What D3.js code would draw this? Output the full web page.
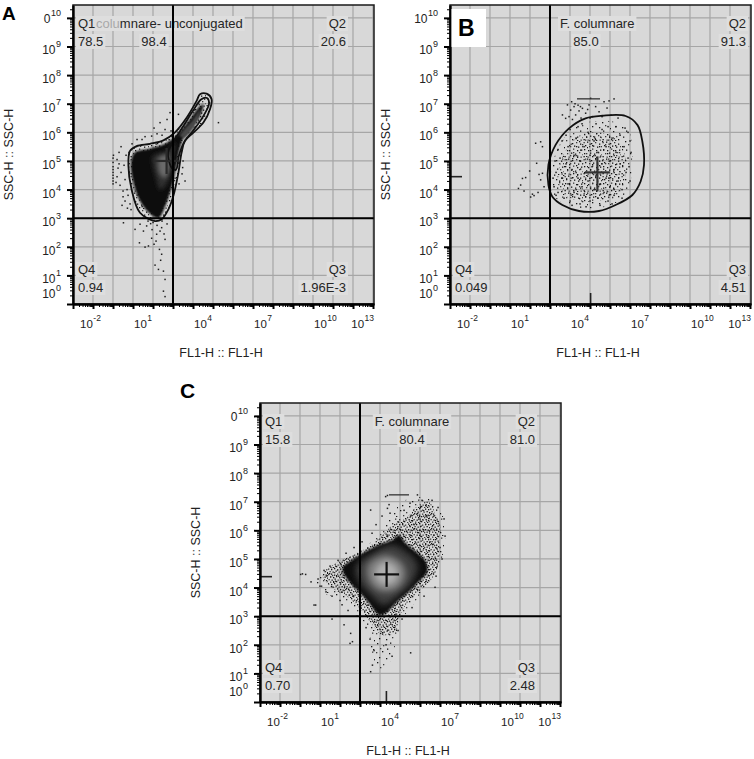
<!DOCTYPE html>
<html><head><meta charset="utf-8">
<script src="https://cdn.jsdelivr.net/npm/d3@7/dist/d3.min.js"></script>
<style>body{margin:0;background:#fff}svg{display:block}text{font-family:"Liberation Sans",Arial,Helvetica,sans-serif}</style>
</head><body>
<script>
// ================= DATA (decade units: value = log10 of channel) =================
const xDecades = [-2,-1,0,1,2,3,4,5,6,7,8,9,10,11,12,13];
const yDecades = [0,1,2,3,4,5,6,7,8,9,10];
const xLabelExps = [-2,1,4,7,10,13];
const yLabelExps = [0,1,2,3,4,5,6,7,8,9,10];
const yTopBase = ["0","10","0"];            // visible base text of the 10^10 label (A,B,C)
const quadThreshold = [3,3];                 // FL1 = 10^3, SSC = 10^3

const quadNames = ["Q1","Q2","Q3","Q4"];
const quadA = ["78.5","20.6","1.96E-3","0.94"];
const quadB = [null,"91.3","4.51","0.049"];
const quadC = ["15.8","81.0","2.48","0.70"];
// panel A: the "F. " of the gate name is hidden behind the Q1 label; "colu" is faded
const gateNameA = ["colu","mnare- unconjugated"];
const gateNames = ["columnare- unconjugated","F. columnare","F. columnare"];
const gateValues = ["98.4","85.0","80.4"];
const xTitle = "FL1-H :: FL1-H";
const yTitle = "SSC-H :: SSC-H";
const panelLetters = ["A","B","C"];

// medians (cross) per panel
const medianA = [2.68,5.0];
const medianB = [5.37,4.6];
const medianC = [4.33,4.46];

// panel A: contours and density levels
const contourA = [[2.1,2.9],[1.35,3.19],[0.93,4.0],[0.77,4.83],[0.85,5.35],[1.18,5.52],[1.85,5.6],[2.52,5.72],[3.1,6.0],[3.68,6.51],[4.18,7.1],[4.35,7.33],[4.68,7.35],[4.93,7.16],[4.85,6.81],[4.52,6.34],[4.02,5.99],[3.6,5.7],[3.43,5.29],[3.27,4.59],[3.02,3.78],[2.77,3.31],[2.43,2.96]];
const armContourA = [[2.75,5.3],[2.95,5.6],[3.5,6.2],[4.0,6.75],[4.4,7.15],[4.7,7.2],[4.8,7.0],[4.5,6.55],[4.0,6.05],[3.55,5.65],[3.3,5.2],[3.15,4.7],[2.95,4.75],[2.8,5.0]];
const coreA = [[1.1,5.3],[1.83,5.43],[2.6,5.6],[3.18,5.9],[3.85,6.46],[4.35,6.92],[4.52,6.98],[4.35,6.57],[3.68,5.99],[3.38,5.55],[3.2,4.94],[2.95,4.13],[2.62,3.43],[2.27,3.0],[1.85,3.15],[1.3,3.66],[0.98,4.36],[0.9,4.94]];
const midA = [[2.0,5.17],[2.68,5.35],[3.1,5.64],[2.93,4.83],[2.7,4.2],[2.35,4.0],[2.15,4.4],[2.0,4.83]];
const lightA = [[2.3,5.12],[2.75,5.2],[2.83,4.8],[2.6,4.4],[2.38,4.5],[2.25,4.8]];
const armA = [[3.35,5.87],[4.02,6.46],[4.35,6.81],[4.18,6.34],[3.6,5.82]];
const dotsA = [[0.0,5.1],[0.0,4.95],[0.0,4.8],[0.0,4.7],[0.0,4.6],[0.0,4.5],[0.0,4.4],[0.0,4.3],[0.0,4.2],[0.02,5.2],[0.2,5.05],[0.2,4.45],[0.25,4.75],[0.3,5.3],[0.35,4.15],[0.4,5.5],[0.4,4.6],[0.45,3.45],[0.5,3.75],[0.5,3.95],[0.52,2.84],[0.55,4.85],[0.6,4.35],[0.6,3.6],[0.65,5.2],[0.7,4.0],[0.72,3.35],[0.75,3.8],[0.8,4.6],[0.8,5.3],[0.85,3.5],[0.9,3.3],[0.3,4.9],[0.15,4.25],
[1.1,2.61],[1.35,2.79],[1.32,2.14],[1.52,2.55],[1.6,1.99],[1.68,2.73],[1.77,2.03],[1.88,2.81],[1.93,2.3],[2.05,2.09],[2.18,2.44],[2.32,1.91],[2.1,1.36],[2.38,1.53],[2.43,1.74],[2.27,1.21],[2.52,1.15],[2.6,0.86],[2.52,0.45],[2.6,0.26],[2.43,2.67],[2.6,2.26],[1.95,2.6],[2.2,2.75],[2.45,2.9],[2.0,2.85],[1.75,2.9],[1.5,3.0],[2.35,2.55],[2.55,2.45],[2.7,2.8],[2.15,2.2],
[3.27,6.63],[2.85,6.69],[2.7,6.45],[2.35,6.34],[2.6,6.1],[1.93,5.87],[2.2,5.95],[1.6,5.85],[1.45,5.75],[5.27,6.34],[3.48,4.77],[3.45,4.55],[3.6,4.3],[2.05,6.15],[3.0,6.3],[1.2,5.75],[2.45,5.9],[2.9,6.05],[3.3,4.2],[3.5,5.0],[0.95,5.6],[1.05,5.45]];

// panel B: gate, clouds, dots, axis markers
const gateB = [[2.92,4.16],[2.92,4.86],[3.28,5.56],[3.95,6.14],[4.78,6.49],[5.62,6.58],[6.78,6.57],[7.37,6.26],[7.62,5.67],[7.7,4.86],[7.53,4.28],[7.12,3.81],[6.28,3.46],[5.45,3.25],[4.45,3.25],[3.62,3.46],[3.12,3.75]];
const cloudOuterB = [[3.05,4.0],[3.1,4.7],[3.3,5.3],[3.7,5.8],[4.2,6.2],[4.8,6.35],[5.5,6.4],[6.3,6.35],[6.9,6.1],[7.1,5.6],[7.1,4.9],[7.0,4.2],[6.6,3.7],[6.0,3.45],[5.3,3.35],[4.5,3.35],[3.8,3.5],[3.3,3.7]];
const cloudInnerB = [[3.4,4.2],[3.5,4.9],[3.9,5.5],[4.5,5.9],[5.2,6.0],[6.0,5.9],[6.6,5.5],[6.8,4.8],[6.6,4.1],[6.1,3.75],[5.3,3.6],[4.4,3.6],[3.8,3.8]];
const dotsB = [[2.28,5.62],[2.53,5.67],[2.62,5.5],[2.33,4.92],[1.98,4.65],[2.45,4.53],[2.53,4.34],[1.62,4.39],[1.53,4.16],[1.42,4.04],[2.12,3.84],[2.2,3.79],[1.7,3.95],[2.62,4.57],[1.78,4.42],[2.03,3.74],[2.4,3.9],[2.7,4.1],
[3.87,6.96],[4.03,6.78],[4.2,6.9],[4.28,6.61],[4.45,6.75],[4.62,6.84],[4.78,6.67],[4.95,6.96],[4.88,6.8],[5.12,6.55],[5.28,6.9],[5.45,6.72],[5.7,7.07],[5.85,6.85],[5.95,7.1],[6.2,7.17],[3.62,6.61],[3.78,6.49],[3.95,6.55],[4.12,6.45],[4.55,6.5],[5.0,6.5],[4.4,6.95],[4.08,7.07],[4.25,7.0],[4.52,6.9],[5.03,7.19],[6.05,6.6],[5.6,6.55],[6.4,6.5],
[3.2,4.1],[3.3,4.6],[3.4,3.9],[3.5,5.1],[3.6,4.4],[3.7,3.7],[3.8,4.9],[3.9,5.5],[3.9,4.2],[4.0,3.6],[4.1,4.7],[4.2,5.2],[4.2,3.9],[4.3,5.8],[4.4,4.4],[4.5,3.5],[4.5,5.0],[4.6,4.1],[4.7,5.5],[4.7,3.8],[4.8,4.6],[4.9,6.0],[4.9,4.3],[5.0,5.2],[5.0,3.6],[5.1,4.8],[5.2,4.0],[5.2,5.7],[5.3,4.5],[5.4,3.7],[5.4,5.3],[5.5,4.2],[5.6,6.1],[5.6,4.9],[5.7,3.9],[5.8,5.5],[5.8,4.4],[5.9,3.6],[6.0,5.0],[6.0,4.1],[6.1,5.8],[6.2,4.7],[6.2,3.8],[6.3,5.3],[6.4,4.3],[6.5,5.9],[6.5,4.9],[6.6,4.0],[6.7,5.5],[6.8,4.6],[6.9,5.1],[6.9,6.0],[7.0,4.3],[7.0,5.7],[3.4,5.4],[3.6,5.7],[4.0,6.1],[4.4,6.2],[3.3,3.8],[5.9,6.2],[6.3,6.2],[6.6,3.7],[4.1,3.45],[4.8,3.4],[5.5,3.45],[6.1,3.5],[3.15,4.4],[3.25,5.0],[6.95,4.8],[7.05,5.3],[6.75,6.15],[5.3,6.3],[4.6,6.3],[3.8,5.9]];
const markersB = {left:4.45, bottom:5.03, topDash:[4.35,5.5,7.17]};

// panel C: density levels, dots, axis markers
const sparseC = [[0.78,4.15],[1.28,4.56],[1.95,4.85],[2.62,5.14],[3.28,5.43],[3.95,5.9],[4.45,6.48],[4.95,6.95],[5.62,7.12],[6.37,7.12],[6.95,6.71],[7.28,6.25],[7.2,5.43],[7.03,4.85],[6.45,4.27],[5.95,3.68],[5.45,3.22],[4.95,2.75],[4.78,2.05],[4.45,1.35],[3.95,1.12],[3.62,1.58],[3.45,2.4],[3.03,2.98],[2.45,3.45],[1.78,3.68],[1.12,3.8]];
const haloC = [[1.12,4.44],[1.78,4.85],[2.62,5.14],[3.45,5.43],[4.12,5.84],[4.62,6.19],[5.28,6.42],[5.95,6.89],[6.45,7.0],[6.78,6.54],[7.03,6.19],[6.95,5.6],[6.95,4.9],[6.62,4.33],[5.95,3.86],[5.28,3.39],[4.95,2.93],[4.78,2.46],[4.12,2.34],[3.62,2.69],[3.12,3.16],[2.45,3.63],[1.62,3.98]];
const coreC = [[2.12,4.67],[2.62,4.97],[3.28,5.26],[3.95,5.49],[4.62,5.66],[4.95,5.84],[5.28,5.55],[5.78,5.26],[6.28,4.91],[6.37,4.56],[5.95,4.21],[5.45,3.86],[4.78,3.45],[4.28,3.1],[3.95,3.04],[3.53,3.39],[2.95,3.86],[2.45,4.21]];
const midC = [[2.78,4.73],[3.62,5.2],[4.62,5.49],[5.28,5.26],[5.87,4.79],[5.62,4.21],[4.95,3.74],[4.2,3.39],[3.53,3.74],[2.95,4.21]];
const lightC = [[3.37,4.79],[4.28,5.14],[5.12,4.85],[5.28,4.38],[4.78,3.92],[4.03,3.86],[3.45,4.21]];
const brightC = [[3.87,4.73],[4.37,4.91],[4.87,4.62],[4.78,4.21],[4.2,4.09],[3.78,4.33]];
const dotsC = [[0.03,4.46],[0.28,4.46],[0.12,4.48],[0.7,3.39],[0.78,3.39],[2.53,2.4],[2.62,2.11],[2.5,2.05],[3.62,1.29],[3.53,1.06],[5.53,1.72],[6.75,4.01],[5.87,7.24],[4.28,7.18],[4.37,7.22],[3.53,6.71],[4.37,6.77],[4.45,6.9],[4.5,6.6],[0.9,4.3],[1.0,4.05],[1.2,4.6],[1.3,3.85],[1.5,4.75],[1.6,3.7],[1.9,4.95],[2.0,3.55],[2.3,5.2],[2.1,3.4],[2.7,5.4],[2.4,3.2],[3.1,5.6],[2.85,3.0],[3.6,5.9],[3.3,2.6],[3.8,6.2],[3.5,2.2],[4.1,6.5],[3.7,1.8],[4.6,1.6],[4.3,2.0],[4.9,2.5],[5.1,2.9],[5.6,3.3],[6.2,3.7],[6.8,4.4],[7.1,5.0],[7.25,5.8],[7.2,6.4],[6.9,6.8],[6.6,7.05],[6.1,7.05],[5.5,6.95],[5.2,6.7],[4.9,6.3],[5.7,6.2],[6.3,6.5],[6.0,6.0],[6.5,5.6],[7.0,5.4],[0.55,4.2],[1.6,2.9],[2.2,2.7]];
const markersC = {left:4.38, bottom:4.32, topDash:[4.45,5.45,7.24]};

// ================= DRAWING =================
const BG = "#d8d8d8", BOX = "#dedede", GRID = "#a6a6a6", INK = "#262626";
const W = 301, H = 299;
const x = d3.scaleLinear().domain([-2, 13.05]).range([0, W]);
const y = d3.scaleLinear().domain([0, 10.45]).range([H, 0]);
const closed = d3.line().x(d => x(d[0])).y(d => y(d[1])).curve(d3.curveCatmullRomClosed.alpha(0.5));

const svg = d3.select("body").append("svg").attr("width", 754).attr("height", 759);
svg.append("rect").attr("width", 754).attr("height", 759).attr("fill", "#fff");
const defs = svg.append("defs");
function pattern(id, w, h, pts) {
  const p = defs.append("pattern").attr("id", id).attr("patternUnits", "userSpaceOnUse").attr("width", w).attr("height", h);
  pts.forEach(([a, b], i) => p.append("rect").attr("x", a).attr("y", b).attr("width", 1.3).attr("height", 1.3)
    .attr("fill", i % 3 === 0 ? "#3a3a3a" : "#161616"));
}
pattern("sparse", 23, 19, [[1,2],[7,1],[14,3],[20,1.5],[4,7],[11,8],[17,6],[22,9],[2,12],[8,14],[15,11.5],[19,15],[5,17],[12,17.5],[21,18]]);
pattern("medium", 19, 17, [[0.5,1],[4,0.5],[8,2],[12,1],[16,2.5],[2,4],[6,5],[10,4.5],[14,5.5],[18,5],[1,8],[5,9],[9,7.5],[13,9],[17,8.5],[3,12],[7,11.5],[11,12.5],[15,11],[18.5,13],[0.5,15],[4.5,15.5],[9,15],[13,16],[16.5,15.5],[6.5,2.5],[11.5,14]]);
pattern("dense", 17, 15, [[0,0.5],[3,1],[6,0],[9,1.5],[12,0.5],[15,1],[1.5,3],[4.5,3.5],[7.5,2.5],[10.5,3.5],[13.5,3],[16,4],[0,6],[3,5.5],[6,6.5],[9,5.5],[12,6],[14.5,6.5],[2,8.5],[5,9],[8,8],[11,9],[13.5,8.5],[16,9.5],[0.5,11],[3.5,11.5],[6.5,10.5],[9.5,11.5],[12.5,11],[15,12],[2,13.5],[5,14],[8,13],[11,14],[14,14],[16.5,13],[4,7],[10,7.5],[7,12.5],[13,12.5],[1,5],[15.5,7]]);
[["blur1",0.9],["blur2",2],["blur3",3.2]].forEach(([id, s]) => {
  defs.append("filter").attr("id", id).attr("x", "-50%").attr("y", "-50%").attr("width", "200%").attr("height", "200%")
    .append("feGaussianBlur").attr("stdDeviation", s);
});
defs.append("clipPath").attr("id", "plotClip").append("rect").attr("width", W).attr("height", H);

const xMinor = [], yMinor = [];
xDecades.slice(0, -1).forEach(d => [2,3,4,5,6,7,8,9].forEach(k => xMinor.push(d + Math.log10(k))));
yDecades.forEach(d => [2,3,4,5,6,7,8,9].forEach(k => { const v = d + Math.log10(k); if (v < 10.45) yMinor.push(v); }));

function addLabel(textLayer, boxLayer, str, px, py, anchor) {
  const t = textLayer.append("text").attr("x", px).attr("y", py).attr("text-anchor", anchor)
    .attr("font-size", 13).attr("fill", INK).text(str);
  const b = t.node().getBBox();
  boxLayer.append("rect").attr("x", b.x - 2).attr("y", b.y).attr("width", b.width + 4).attr("height", b.height).attr("fill", BOX);
  return t;
}

function drawPanel(P) {
  const g = svg.append("g").attr("transform", `translate(${P.left},${P.top})`);
  g.append("rect").attr("width", W).attr("height", H).attr("fill", BG);
  const grid = g.append("g").attr("stroke", GRID).attr("stroke-width", 1.2);
  grid.selectAll("line.gx").data(xDecades.filter(d => d > -2)).join("line").attr("class", "gx")
    .attr("x1", d => x(d)).attr("x2", d => x(d)).attr("y1", 0).attr("y2", H);
  grid.selectAll("line.gy").data(yDecades.filter(d => d > 0)).join("line").attr("class", "gy")
    .attr("x1", 0).attr("x2", W).attr("y1", d => y(d)).attr("y2", d => y(d));
  const boxLayer = g.append("g");
  const plot = g.append("g").attr("clip-path", "url(#plotClip)");

  P.layers.forEach(L => {
    plot.append("path").datum(L.pts).attr("d", closed).attr("fill", L.fill)
      .attr("filter", L.filter ? `url(#${L.filter})` : null);
  });
  plot.append("g").selectAll("rect").data(P.dots).join("rect")
    .attr("x", d => x(d[0]) - 0.7).attr("y", d => y(d[1]) - 0.7).attr("width", 1.5).attr("height", 1.5).attr("fill", "#1e1e1e");
  (P.outlines || []).forEach(o => {
    plot.append("path").datum(o).attr("d", closed).attr("fill", "none").attr("stroke", "#111").attr("stroke-width", 1.8);
  });
  if (P.markers) {
    const m = P.markers;
    plot.append("line").attr("x1", 0).attr("x2", 12).attr("y1", y(m.left)).attr("y2", y(m.left)).attr("stroke", "#222").attr("stroke-width", 1.6);
    plot.append("line").attr("x1", x(m.bottom)).attr("x2", x(m.bottom)).attr("y1", H).attr("y2", H - 11).attr("stroke", "#222").attr("stroke-width", 1.6);
    plot.append("line").attr("x1", x(m.topDash[0])).attr("x2", x(m.topDash[1])).attr("y1", y(m.topDash[2])).attr("y2", y(m.topDash[2])).attr("stroke", "#333").attr("stroke-width", 1.3);
  }
  const [cx, cy] = P.median;
  const cross = plot.append("g").attr("stroke", P.crossColor).attr("stroke-width", 2.2);
  cross.append("line").attr("x1", x(cx) - 12.5).attr("x2", x(cx) + 12.5).attr("y1", y(cy)).attr("y2", y(cy));
  cross.append("line").attr("x1", x(cx)).attr("x2", x(cx)).attr("y1", y(cy) - P.crossV[0]).attr("y2", y(cy) + P.crossV[1]);

  // quadrant & gate texts
  const textLayer = g.append("g");
  const rows = [23, 41, 269, 287];
  if (P.gateParts) {
    const t = textLayer.append("text").attr("x", P.gateX).attr("y", rows[0]).attr("font-size", 13).attr("fill", INK);
    t.append("tspan").attr("fill", "#a9a9a9").text(P.gateParts[0]);
    t.append("tspan").text(P.gateParts[1]);
    const b = t.node().getBBox();
    boxLayer.append("rect").attr("x", b.x - 1).attr("y", b.y).attr("width", b.width + 3).attr("height", b.height).attr("fill", BOX);
  } else {
    addLabel(textLayer, boxLayer, P.gateName, P.gateX, rows[0], P.gateAnchor);
  }
  addLabel(textLayer, boxLayer, P.gateValue, P.valX, rows[1], "middle");
  const q = P.quads;
  const L = 5, R = W - P.rightInset;
  if (q[0] !== null) {
    addLabel(textLayer, boxLayer, quadNames[0], L, rows[0], "start");
    addLabel(textLayer, boxLayer, q[0], L, rows[1], "start");
  }
  addLabel(textLayer, boxLayer, quadNames[1], R, rows[0], "end");
  addLabel(textLayer, boxLayer, q[1], R, rows[1], "end");
  addLabel(textLayer, boxLayer, quadNames[3], L, rows[2], "start");
  addLabel(textLayer, boxLayer, q[3], L, rows[3], "start");
  addLabel(textLayer, boxLayer, quadNames[2], R, rows[2], "end");
  addLabel(textLayer, boxLayer, q[2], R, rows[3], "end");

  // quadrant lines
  const ql = g.append("g").attr("stroke", "#000").attr("stroke-width", 2);
  ql.append("line").attr("x1", x(quadThreshold[0])).attr("x2", x(quadThreshold[0])).attr("y1", 0).attr("y2", H);
  ql.append("line").attr("x1", 0).attr("x2", W).attr("y1", y(quadThreshold[1])).attr("y2", y(quadThreshold[1]));

  // frame
  g.append("rect").attr("width", W).attr("height", H).attr("fill", "none").attr("stroke", "#1a1a1a").attr("stroke-width", 1.5);
  // axes
  const bx1 = g.append("g").attr("transform", `translate(0,${H})`).call(d3.axisBottom(x).tickValues(xMinor).tickSize(3).tickSizeOuter(0).tickFormat(""));
  bx1.select(".domain").remove(); bx1.selectAll("line").attr("stroke", "#000").attr("stroke-width", 1);
  const bx2 = g.append("g").attr("transform", `translate(0,${H})`).call(d3.axisBottom(x).tickValues(xDecades).tickSize(5).tickSizeOuter(0).tickFormat(""));
  bx2.select(".domain").attr("stroke", "#000").attr("stroke-width", 2.4);
  bx2.selectAll("line").attr("stroke", "#000").attr("stroke-width", 2);
  const ly1 = g.append("g").call(d3.axisLeft(y).tickValues(yMinor).tickSize(3).tickSizeOuter(0).tickFormat(""));
  ly1.select(".domain").remove(); ly1.selectAll("line").attr("stroke", "#000").attr("stroke-width", 1);
  const ly2 = g.append("g").call(d3.axisLeft(y).tickValues(yDecades).tickSize(6).tickSizeOuter(0).tickFormat(""));
  ly2.select(".domain").attr("stroke", "#000").attr("stroke-width", 2.4);
  ly2.selectAll("line").attr("stroke", "#000").attr("stroke-width", 2);

  // tick labels
  xLabelExps.forEach(e => {
    let px = x(e) + 1, anchor = "start";
    if (e === xLabelExps[0]) px = x(e) + 7;
    if (e === xLabelExps[xLabelExps.length - 1]) { px = W; anchor = "end"; }
    const t = g.append("text").attr("x", px).attr("y", H + 24).attr("text-anchor", anchor).attr("font-size", 11.5).attr("fill", "#222");
    t.append("tspan").text("10");
    t.append("tspan").attr("dy", -7).attr("font-size", 8.5).attr("dx", 0.5).text(String(e));
  });
  yLabelExps.forEach((e, i) => {
    let py = y(e) + 8;
    if (i === 0) py = y(e) - 6;
    if (i === yLabelExps.length - 1) py = y(e) + 5;
    const base = (i === yLabelExps.length - 1) ? P.topBase : "10";
    const t = g.append("text").attr("x", -12).attr("y", py).attr("text-anchor", "end").attr("font-size", 12).attr("fill", "#222");
    t.append("tspan").text(base);
    t.append("tspan").attr("dy", -7).attr("font-size", 9).attr("dx", 0.5).text(String(e));
  });
  // axis titles
  g.append("text").attr("x", 148).attr("y", H + 53).attr("text-anchor", "middle").attr("font-size", 12.5).attr("fill", "#222").text(xTitle);
  g.append("text").attr("transform", `translate(-60,${H / 2}) rotate(-90)`).attr("text-anchor", "middle").attr("font-size", 12.5).attr("fill", "#222").text(yTitle);
  return g;
}

const panels = [
  { left: 73, top: 5, quads: quadA, gateParts: gateNameA, gateName: gateNames[0], gateValue: gateValues[0], gateX: 23, valX: 81, rightInset: 28, topBase: yTopBase[0],
    median: medianA, crossColor: "#2a2a2a", crossV: [13, 13], dots: dotsA, outlines: [contourA, armContourA],
    layers: [ {pts: contourA, fill: "url(#medium)"}, {pts: coreA, fill: "#0c0c0c", filter: "blur1"}, {pts: midA, fill: "#2e2e2e", filter: "blur2"}, {pts: lightA, fill: "#6a6a6a", filter: "blur2"}, {pts: armA, fill: "#4a4a4a", filter: "blur1"} ] },
  { left: 450, top: 5, quads: quadB, gateName: gateNames[1], gateValue: gateValues[1], gateX: 110, gateAnchor: "start", valX: 136, rightInset: 5, topBase: yTopBase[1],
    median: medianB, crossColor: "#333", crossV: [16, 19], dots: dotsB, outlines: [gateB], markers: markersB,
    layers: [ {pts: cloudOuterB, fill: "url(#sparse)"}, {pts: cloudInnerB, fill: "url(#medium)"} ] },
  { left: 260, top: 403, quads: quadC, gateName: gateNames[2], gateValue: gateValues[2], gateX: 152, gateAnchor: "middle", valX: 152, rightInset: 26, topBase: yTopBase[2],
    median: medianC, crossColor: "#111", crossV: [12.5, 12.5], dots: dotsC, markers: markersC,
    layers: [ {pts: sparseC, fill: "url(#sparse)"}, {pts: haloC, fill: "url(#dense)"}, {pts: coreC, fill: "#0c0c0c", filter: "blur1"}, {pts: midC, fill: "#3c3c3c", filter: "blur3"}, {pts: lightC, fill: "#7d7d7d", filter: "blur3"}, {pts: brightC, fill: "#b0b0b0", filter: "blur3"} ] }
];
panels.forEach(drawPanel);

// panel letters
svg.append("text").attr("x", 2).attr("y", 20).attr("font-size", 19).attr("font-weight", "bold").attr("fill", "#000").text(panelLetters[0]);
svg.append("rect").attr("x", 451.5).attr("y", 9).attr("width", 34.5).attr("height", 38).attr("fill", "#fff");
svg.append("text").attr("x", 458).attr("y", 36).attr("font-size", 23).attr("font-weight", "bold").attr("fill", "#000").text(panelLetters[1]);
svg.append("text").attr("x", 180).attr("y", 398).attr("font-size", 21).attr("font-weight", "bold").attr("fill", "#000").text(panelLetters[2]);
</script>
</body></html>
